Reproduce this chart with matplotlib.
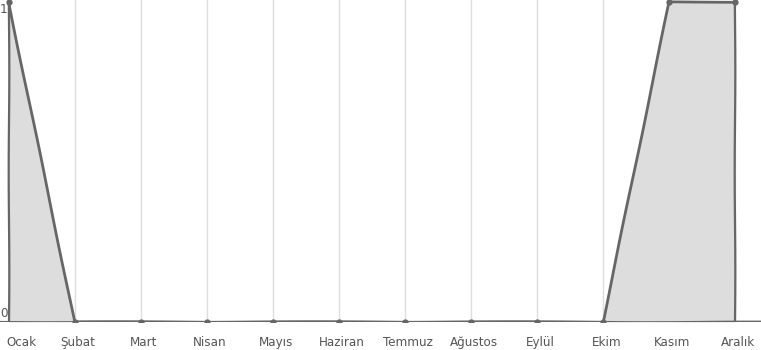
import matplotlib as mpl
import matplotlib.pyplot as plt
import numpy as np

# monthly values
months = ['Ocak', 'Şubat', 'Mart', 'Nisan', 'Mayıs', 'Haziran',
          'Temmuz', 'Ağustos', 'Eylül', 'Ekim', 'Kasım', 'Aralık']
values = [1, 0, 0, 0, 0, 0, 0, 0, 0, 0, 1, 1]
yticks = [0, 1]

LINE = '#666666'
FILL = '#dddddd'
GRID = '#dddddd'
TEXT = '#555555'
SKETCH = (0.3, 200, 1)

mpl.rcParams['font.family'] = ['DejaVu Sans']
mpl.rcParams['font.stretch'] = 'condensed'

x = np.arange(len(months))

fig = plt.figure(figsize=(7.61, 3.5), dpi=100)
ax = fig.add_axes([0, 0.08, 1, 0.92])

for xi in x[1:]:
    ax.axvline(xi, color=GRID, linewidth=1, zorder=0)

# area + its vertical edges
ax.fill_between(x, values, 0, color=FILL, linewidth=0, zorder=1)
for xe in (x[0], x[-1]):
    edge, = ax.plot([xe, xe], [0, values[xe]], color=LINE, linewidth=1.6, zorder=2)
    edge.set_sketch_params(*SKETCH)

base = ax.axhline(0, color=LINE, linewidth=1.6, zorder=2)
base.set_sketch_params(*SKETCH)

line, = ax.plot(x, values, color=LINE, linewidth=2, zorder=3)
line.set_sketch_params(*SKETCH)
ax.plot(x, values, 'o', color=LINE, markersize=3.5, zorder=4)

ax.set_xlim(-0.13, 11.391)
ax.set_ylim(0, 1.00625)
ax.set_xticks([])
ax.set_yticks([])
for s in ax.spines.values():
    s.set_visible(False)

# tick labels
for xi, m in zip(x, months):
    if xi == 0:
        ax.text(-0.03, -0.045, m, ha='left', va='top', fontsize=9.5,
                color=TEXT, clip_on=False)
    else:
        ax.text(xi + 0.05, -0.045, m, ha='center', va='top', fontsize=9.5,
                color=TEXT, clip_on=False)
ax.text(-0.13, yticks[0] + 0.005, str(yticks[0]), ha='left', va='bottom',
        fontsize=9.5, color=TEXT)
ax.text(-0.13, yticks[1] - 0.003, str(yticks[1]), ha='left', va='top',
        fontsize=9.5, color=TEXT)

fig.savefig('out.png', dpi=100)
